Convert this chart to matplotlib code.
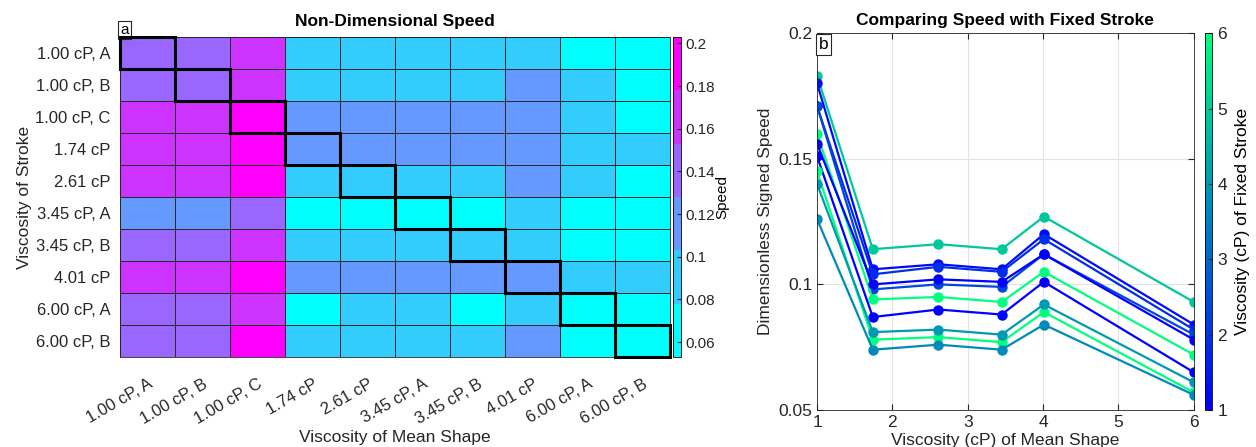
import numpy as np
import matplotlib
import matplotlib.pyplot as plt
from matplotlib.patches import Rectangle
from matplotlib.colors import Normalize

plt.rcParams['font.family'] = ['Liberation Sans', 'DejaVu Sans']

# ---------------- data ----------------
labels = ['1.00 cP, A', '1.00 cP, B', '1.00 cP, C', '1.74 cP', '2.61 cP',
          '3.45 cP, A', '3.45 cP, B', '4.01 cP', '6.00 cP, A', '6.00 cP, B']

# speed (rows: stroke, cols: mean shape)
speed = np.array([
    [0.140, 0.141, 0.166, 0.091, 0.090, 0.090, 0.089, 0.092, 0.066, 0.064],
    [0.139, 0.140, 0.165, 0.090, 0.089, 0.089, 0.088, 0.112, 0.090, 0.065],
    [0.167, 0.166, 0.192, 0.114, 0.113, 0.114, 0.113, 0.115, 0.092, 0.067],
    [0.166, 0.165, 0.191, 0.113, 0.112, 0.113, 0.112, 0.114, 0.091, 0.090],
    [0.165, 0.164, 0.190, 0.091, 0.090, 0.091, 0.090, 0.112, 0.090, 0.066],
    [0.115, 0.116, 0.141, 0.066, 0.065, 0.066, 0.065, 0.089, 0.064, 0.063],
    [0.141, 0.140, 0.166, 0.090, 0.089, 0.090, 0.089, 0.091, 0.066, 0.065],
    [0.167, 0.166, 0.191, 0.114, 0.113, 0.114, 0.113, 0.115, 0.091, 0.090],
    [0.140, 0.139, 0.165, 0.066, 0.089, 0.088, 0.066, 0.089, 0.064, 0.063],
    [0.141, 0.140, 0.192, 0.090, 0.089, 0.089, 0.088, 0.112, 0.065, 0.064],
])

mean_visc = [1, 1.74, 2.61, 3.45, 4.01, 6]
# colour value of each line, read against the colour bar
line_cval = [4.9, 1.2, 1.9, 2.4, 6.0, 1.0, 1.0, 6.0, 4.0, 3.7]
line_speed = [
    [0.183, 0.114, 0.116, 0.114, 0.127, 0.093],
    [0.180, 0.106, 0.108, 0.106, 0.120, 0.084],
    [0.171, 0.104, 0.107, 0.105, 0.118, 0.082],
    [0.171, 0.098, 0.100, 0.099, 0.112, 0.080],
    [0.160, 0.094, 0.095, 0.093, 0.105, 0.072],
    [0.156, 0.100, 0.102, 0.101, 0.112, 0.078],
    [0.151, 0.087, 0.090, 0.088, 0.101, 0.065],
    [0.145, 0.078, 0.079, 0.077, 0.089, 0.057],
    [0.140, 0.081, 0.082, 0.080, 0.092, 0.061],
    [0.126, 0.074, 0.076, 0.074, 0.084, 0.056],
]

# ---------------- figure ----------------
fig = plt.figure(figsize=(12.56, 4.47), dpi=100)

# heatmap
ax1 = fig.add_axes([0.0955, 0.2013, 0.438, 0.716])
cmap1 = plt.get_cmap('cool', 6)
n = len(labels)
mesh = ax1.pcolormesh(np.arange(n + 1), np.arange(n + 1), speed, cmap=cmap1,
                      vmin=0.053, vmax=0.203, edgecolor='#2a2a2a', linewidth=0.5)
for i in range(n):
    ax1.add_patch(Rectangle((i, i), 1, 1, fill=False, edgecolor='black',
                            linewidth=2.2, zorder=5, clip_on=False))
ax1.set_xlim(0, n)
ax1.set_ylim(n, 0)
ax1.set_xticks(np.arange(n) + 0.5)
ax1.set_yticks(np.arange(n) + 0.5)
ax1.set_xticklabels(labels, rotation=30, ha='right', rotation_mode='anchor')
ax1.set_yticklabels(labels)
ax1.tick_params(axis='both', length=0, labelsize=12, colors='#262626')
ax1.tick_params(axis='x', pad=14)
ax1.tick_params(axis='y', pad=7)
for s in ax1.spines.values():
    s.set_color('#262626')
    s.set_linewidth(0.6)
ax1.set_xlabel('Viscosity of Mean Shape', fontsize=12.5, color='#262626', labelpad=2)
ax1.set_ylabel('Viscosity of Stroke', fontsize=12.5, color='#262626', labelpad=2)
ax1.set_title('Non-Dimensional Speed', fontsize=12.5, fontweight='bold', pad=8)
ax1.text(0.0, 1.0, 'a', transform=ax1.transAxes, ha='left', va='bottom',
         fontsize=11, bbox=dict(boxstyle='square,pad=0.15', fc='white', ec='#262626', lw=0.8))

cax1 = fig.add_axes([0.5355, 0.2013, 0.0064, 0.716])
cb1 = fig.colorbar(mesh, cax=cax1)
cb1.set_ticks([0.06, 0.08, 0.1, 0.12, 0.14, 0.16, 0.18, 0.2])
cb1.set_ticklabels(['0.06', '0.08', '0.1', '0.12', '0.14', '0.16', '0.18', '0.2'])
cb1.ax.tick_params(labelsize=11, direction='in', length=3, colors='#262626')
cb1.outline.set_linewidth(0.6)
cb1.set_label('Speed', fontsize=11, labelpad=0)

# line plot
ax2 = fig.add_axes([0.6505, 0.0828, 0.300, 0.843])
cmap2 = plt.get_cmap('winter')
norm2 = Normalize(1, 6)
for cv, ys in zip(line_cval, line_speed):
    ax2.plot(mean_visc, ys, '-o', color=cmap2(norm2(cv)), linewidth=1.6,
             markersize=6.5)
ax2.set_xlim(1, 6)
ax2.set_ylim(0.05, 0.2)
ax2.set_xticks([1, 2, 3, 4, 5, 6])
ax2.set_yticks([0.05, 0.1, 0.15, 0.2])
ax2.set_yticklabels(['0.05', '0.1', '0.15', '0.2'])
ax2.grid(True, color='#e3e3e3', linewidth=0.8)
ax2.set_axisbelow(True)
ax2.tick_params(axis='both', direction='in', length=4, labelsize=12.5,
                colors='#262626', top=True, right=True)
for s in ax2.spines.values():
    s.set_color('#262626')
    s.set_linewidth(0.6)
ax2.set_xlabel('Viscosity (cP) of Mean Shape', fontsize=12.5, color='#262626', labelpad=2)
ax2.set_ylabel('Dimensionless Signed Speed', fontsize=12.5, color='#262626')
ax2.set_title('Comparing Speed with Fixed Stroke', fontsize=12.5, fontweight='bold', pad=6)
ax2.text(0.004, 0.99, 'b', transform=ax2.transAxes, ha='left', va='top',
         fontsize=12.5, bbox=dict(boxstyle='square,pad=0.15', fc='white', ec='#262626', lw=0.8))

cax2 = fig.add_axes([0.9594, 0.0828, 0.0058, 0.843])
sm = matplotlib.cm.ScalarMappable(norm=norm2, cmap=cmap2)
cb2 = fig.colorbar(sm, cax=cax2)
cb2.set_ticks([1, 2, 3, 4, 5, 6])
cb2.ax.tick_params(labelsize=12.5, direction='in', length=3, colors='#262626')
cb2.outline.set_linewidth(0.6)
cb2.set_label('Viscosity (cP) of Fixed Stroke', fontsize=12.5, labelpad=6)

fig.savefig('out.png', dpi=100)
